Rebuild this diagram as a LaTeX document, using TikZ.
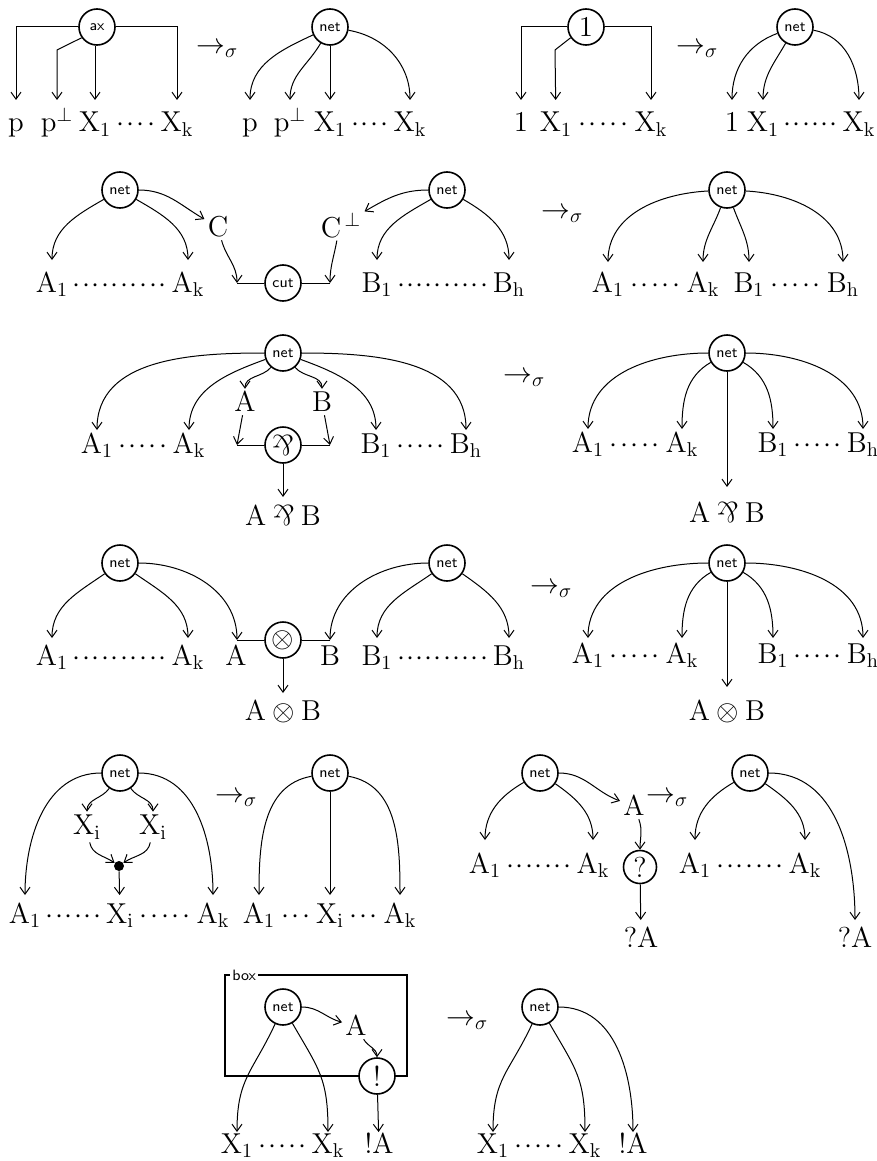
\documentclass[tikz,border=0pt]{standalone}
\usetikzlibrary{arrows.meta,calc}
\mathcode`A="7041 \mathcode`B="7042 \mathcode`C="7043 \mathcode`X="7058
\mathcode`p="7070 \mathcode`k="706B \mathcode`h="7068 \mathcode`i="7069
\newcommand{\parrsym}{\mathbin{\rotatebox[origin=c]{180}{$\&$}}}
\newcommand{\tagf}{\fontsize{7.5}{9}\sffamily}
\newcommand{\dotsbtw}[2]{\path let \p1=(#1.base east), \p2=(#2.base west) in
  node[dotn] at ($(\p1)!0.5!(\p2)$) {\hbox to \dimexpr\x2-\x1-4pt\relax{\xleaders\hbox to 4.6pt{\hss$\cdot$\hss}\hfill}};}
\begin{document}
\begin{tikzpicture}[x=0.5pt,y=0.5pt,
  every node/.style={font=\fontsize{14}{16}\selectfont},
  arr/.style={-{Straight Barb[length=3.5pt,width=5pt]}, line width=0.5pt},
  ln/.style={line width=0.5pt},
  cnode/.style={circle, draw, fill=white, line width=0.8pt, minimum size=18pt, inner sep=0pt},
  lbl/.style={inner sep=0pt, outer xsep=0pt, outer ysep=#1, text height=9pt, text depth=2.5pt, anchor=base},
  lbl/.default=3pt,
  mlbl/.style={inner sep=1.5pt},
  dotn/.style={inner sep=0pt, anchor=base},
  sig/.style={anchor=west, inner sep=0pt},
  bdot/.style={circle, fill, inner sep=0pt, minimum size=5pt}
]
\useasboundingbox (0,0) rectangle (877,-1161);

% ---------------- Row 1, panel 1 (ax)
\node[cnode] (ax) at (97,-27) {\tagf ax};
\node[lbl=7pt] (r1p) at (16,-132) {$p$};
\node[lbl=7pt] (r1q) at (57,-132) {$p^{\perp}$};
\node[lbl=7pt] (r1x) at (95,-132) {$X_1$};
\node[lbl=7pt] (r1k) at (177,-132) {$X_k$};
\dotsbtw{r1x}{r1k}
\coordinate (r1c) at (57,-50);
\draw[arr] (ax.west) -| (r1p);
\draw[arr] (ax.215) -- (r1c) -- (r1q);
\draw[arr] (ax.south -| r1x) -- (r1x);
\draw[arr] (ax.east) -| (r1k);
\node[sig] at (196,-50) {$\to_{\sigma}$};

% ---------------- Row 1, panel 2
\node[cnode] (n1b) at (330,-27) {\tagf net};
\node[lbl=7pt] (r1bp) at (250,-132) {$p$};
\node[lbl=7pt] (r1bq) at (290,-132) {$p^{\perp}$};
\node[lbl=7pt] (r1bx) at (330,-132) {$X_1$};
\node[lbl=7pt] (r1bk) at (410,-132) {$X_k$};
\dotsbtw{r1bx}{r1bk}
\draw[arr] (n1b) to[out=205,in=90] (r1bp);
\draw[arr] (n1b) to[out=240,in=90] (r1bq);
\draw[arr] (n1b) -- (r1bx);
\draw[arr] (n1b) to[out=-10,in=90] (r1bk);

% ---------------- Row 1, panel 3 (one)
\node[cnode] (one) at (586,-27) {$1$};
\node[lbl=7pt] (r1c1) at (521,-132) {$1$};
\node[lbl=7pt] (r1cx) at (556,-132) {$X_1$};
\node[lbl=7pt] (r1ck) at (651,-132) {$X_k$};
\dotsbtw{r1cx}{r1ck}
\coordinate (r1d) at (555,-50);
\draw[arr] (one.west) -| (r1c1);
\draw[arr] (one.215) -- (r1d) -- (r1cx);
\draw[arr] (one.east) -| (r1ck);
\node[sig] at (676,-50) {$\to_{\sigma}$};

% ---------------- Row 1, panel 4
\node[cnode] (n1d) at (795,-27) {\tagf net};
\node[lbl=7pt] (r1d1) at (732,-132) {$1$};
\node[lbl=7pt] (r1dx) at (763,-132) {$X_1$};
\node[lbl=7pt] (r1dk) at (859,-132) {$X_k$};
\dotsbtw{r1dx}{r1dk}
\draw[arr] (n1d) to[out=200,in=90] (r1d1);
\draw[arr] (n1d) to[out=240,in=90] (r1dx);
\draw[arr] (n1d) to[out=-10,in=90] (r1dk);

% ---------------- Row 2 left (cut)
\node[cnode] (n2a) at (120,-190) {\tagf net};
\node[lbl=7pt] (r2a1) at (52,-292) {$A_1$};
\node[lbl=7pt] (r2ak) at (188,-292) {$A_k$};
\dotsbtw{r2a1}{r2ak}
\node[mlbl] (r2C) at (218,-227) {$C$};
\node[cnode] (cut) at (283,-283) {\tagf cut};
\coordinate (r2cl) at (237,-283);
\coordinate (r2cr) at (330,-283);
\node[mlbl] (r2Cp) at (341,-225) {$C^{\,\perp}$};
\node[cnode] (n2b) at (447,-190) {\tagf net};
\node[lbl=7pt] (r2b1) at (377,-292) {$B_1$};
\node[lbl=7pt] (r2bh) at (509,-292) {$B_h$};
\dotsbtw{r2b1}{r2bh}
\draw[arr] (n2a) to[out=210,in=90] (r2a1);
\draw[arr] (n2a) to[out=-30,in=90] (r2ak);
\draw[arr] (n2a.east) to[out=0,in=150] (r2C);
\draw[arr] (r2C) to[out=-75,in=90] (r2cl);
\draw[ln] (cut) -- (r2cl);
\draw[ln] (cut) -- (r2cr);
\draw[arr] (n2b.west) to[out=180,in=30] (r2Cp);
\draw[arr] (r2Cp.-105) to[out=-100,in=90] (r2cr);
\draw[arr] (n2b) to[out=210,in=90] (r2b1);
\draw[arr] (n2b) to[out=-30,in=90] (r2bh);

% ---------------- Row 2 right
\node[sig] at (541,-215) {$\to_{\sigma}$};
\node[cnode] (n2c) at (727,-190) {\tagf net};
\node[lbl=6pt] (r2c1) at (608,-292) {$A_1$};
\node[lbl=6pt] (r2ck) at (703,-292) {$A_k$};
\node[lbl=6pt] (r2cb) at (749,-292) {$B_1$};
\node[lbl=6pt] (r2ch) at (843,-292) {$B_h$};
\dotsbtw{r2c1}{r2ck}
\dotsbtw{r2cb}{r2ch}
\draw[arr] (n2c) to[out=183,in=90] (r2c1);
\draw[arr] (n2c) to[out=250,in=90] (r2ck);
\draw[arr] (n2c) to[out=-70,in=90] (r2cb);
\draw[arr] (n2c) to[out=-3,in=90] (r2ch);

% ---------------- Row 3 left (par)
\node[cnode] (n3a) at (283,-353) {\tagf net};
\node[lbl=2.5pt] (r3a1) at (97,-453) {$A_1$};
\node[lbl=2.5pt] (r3ak) at (189,-453) {$A_k$};
\node[lbl=2.5pt] (r3b1) at (376,-453) {$B_1$};
\node[lbl=2.5pt] (r3bh) at (466,-453) {$B_h$};
\dotsbtw{r3a1}{r3ak}
\dotsbtw{r3b1}{r3bh}
\node[mlbl] (r3A) at (245,-402) {$A$};
\node[mlbl] (r3B) at (322,-402) {$B$};
\node[cnode] (par) at (283,-445) {$\parrsym$};
\coordinate (r3pl) at (237,-445);
\coordinate (r3pr) at (330,-445);
\node[lbl=5pt] (r3ab) at (283,-525) {$A\parrsym B$};
\draw[arr] (n3a.west) to[out=180,in=90] (r3a1);
\draw[arr] (n3a) to[out=200,in=90] (r3ak);
\draw[arr] (n3a) to[out=230,in=90] (r3A);
\draw[arr] (n3a) to[out=-50,in=90] (r3B);
\draw[arr] (n3a) to[out=-20,in=90] (r3b1);
\draw[arr] (n3a.east) to[out=0,in=90] (r3bh);
\draw[arr] (r3A) -- (r3pl);
\draw[arr] (r3B) -- (r3pr);
\draw[ln] (par) -- (r3pl);
\draw[ln] (par) -- (r3pr);
\draw[arr] (par) -- (r3ab);

% ---------------- Row 3 right
\node[sig] at (503,-379) {$\to_{\sigma}$};
\node[cnode] (n3b) at (727,-353) {\tagf net};
\node[lbl=2.5pt] (r3c1) at (588,-452) {$A_1$};
\node[lbl=2.5pt] (r3ck) at (682,-452) {$A_k$};
\node[lbl=2.5pt] (r3cb) at (773,-452) {$B_1$};
\node[lbl=2.5pt] (r3ch) at (863,-452) {$B_h$};
\dotsbtw{r3c1}{r3ck}
\dotsbtw{r3cb}{r3ch}
\node[lbl=8.5pt] (r3cm) at (727,-522) {$A\parrsym B$};
\draw[arr] (n3b.west) to[out=180,in=90] (r3c1);
\draw[arr] (n3b) to[out=210,in=90] (r3ck);
\draw[arr] (n3b) -- (r3cm);
\draw[arr] (n3b) to[out=-30,in=90] (r3cb);
\draw[arr] (n3b.east) to[out=0,in=90] (r3ch);

% ---------------- Row 4 left (tensor)
\node[cnode] (n4a) at (120,-563) {\tagf net};
\node[lbl=4.5pt] (r4a1) at (52,-665) {$A_1$};
\node[lbl=4.5pt] (r4ak) at (188,-665) {$A_k$};
\dotsbtw{r4a1}{r4ak}
\node[lbl=4.5pt] (r4A) at (236,-665) {$A$};
\node[lbl=4.5pt] (r4B) at (330,-665) {$B$};
\node[cnode] (tens) at (283,-640) {$\otimes$};
\coordinate (r4cA) at (237,-640);
\coordinate (r4cB) at (330,-640);
\node[cnode] (n4b) at (447,-563) {\tagf net};
\node[lbl=4.5pt] (r4b1) at (377,-665) {$B_1$};
\node[lbl=4.5pt] (r4bh) at (509,-665) {$B_h$};
\dotsbtw{r4b1}{r4bh}
\node[lbl=4.5pt] (r4ab) at (283,-720) {$A\otimes B$};
\draw[arr] (n4a) to[out=215,in=90] (r4a1);
\draw[arr] (n4a) to[out=-35,in=90] (r4ak);
\draw[arr] (n4a.east) to[out=0,in=90] (r4cA);
\draw[arr] (n4b.west) to[out=180,in=90] (r4cB);
\draw[arr] (n4b) to[out=215,in=90] (r4b1);
\draw[arr] (n4b) to[out=-35,in=90] (r4bh);
\draw[ln] (tens) -- (r4cA);
\draw[ln] (tens) -- (r4cB);
\draw[arr] (tens) -- (r4ab);

% ---------------- Row 4 right
\node[sig] at (530,-590) {$\to_{\sigma}$};
\node[cnode] (n4c) at (727,-563) {\tagf net};
\node[lbl=3.5pt] (r4c1) at (588,-663) {$A_1$};
\node[lbl=3.5pt] (r4ck) at (682,-663) {$A_k$};
\node[lbl=3.5pt] (r4cb) at (773,-663) {$B_1$};
\node[lbl=3.5pt] (r4ch) at (863,-663) {$B_h$};
\dotsbtw{r4c1}{r4ck}
\dotsbtw{r4cb}{r4ch}
\node[lbl=7.5pt] (r4cm) at (727,-720) {$A\otimes B$};
\draw[arr] (n4c.west) to[out=180,in=90] (r4c1);
\draw[arr] (n4c) to[out=210,in=90] (r4ck);
\draw[arr] (n4c) -- (r4cm);
\draw[arr] (n4c) to[out=-30,in=90] (r4cb);
\draw[arr] (n4c.east) to[out=0,in=90] (r4ch);

% ---------------- Row 5, panel 1 (contraction)
\node[cnode] (n5a) at (120,-773) {\tagf net};
\node[lbl=5pt] (r5a1) at (25,-923) {$A_1$};
\node[lbl=5pt] (r5ax) at (120,-923) {$X_i$};
\node[lbl=5pt] (r5ak) at (213,-923) {$A_k$};
\dotsbtw{r5a1}{r5ax}
\dotsbtw{r5ax}{r5ak}
\node[mlbl] (r5xl) at (87,-827) {$X_i$};
\node[mlbl] (r5xr) at (153,-827) {$X_i$};
\node[bdot] (cdot) at (119,-866) {};
\draw[arr] (n5a.west) to[out=180,in=90] (r5a1);
\draw[arr] (n5a.east) to[out=0,in=90] (r5ak);
\draw[arr] (n5a) to[out=235,in=90] (r5xl);
\draw[arr] (n5a) to[out=-55,in=90] (r5xr);
\draw[arr] (r5xl) to[out=-80,in=145] (cdot);
\draw[arr] (r5xr) to[out=-100,in=35] (cdot);
\draw[arr] (cdot) -- (r5ax);
\node[sig] at (215,-799) {$\to_{\sigma}$};

% ---------------- Row 5, panel 2
\node[cnode] (n5b) at (330,-773) {\tagf net};
\node[lbl=5pt] (r5b1) at (259,-923) {$A_1$};
\node[lbl=5pt] (r5bx) at (330,-923) {$X_i$};
\node[lbl=5pt] (r5bk) at (400,-923) {$A_k$};
\dotsbtw{r5b1}{r5bx}
\dotsbtw{r5bx}{r5bk}
\draw[arr] (n5b) to[out=190,in=90] (r5b1);
\draw[arr] (n5b) -- (r5bx);
\draw[arr] (n5b) to[out=-10,in=90] (r5bk);

% ---------------- Row 5, panel 3 (why not)
\node[cnode] (n5c) at (540,-773) {\tagf net};
\node[lbl=7.5pt] (r5c1) at (485,-873) {$A_1$};
\node[lbl=7.5pt] (r5ck) at (593,-873) {$A_k$};
\dotsbtw{r5c1}{r5ck}
\node[mlbl] (r5A) at (634,-806) {$A$};
\node[cnode, minimum size=16.5pt] (qn) at (640,-867) {$?$};
\node[lbl=4.5pt] (r5qA) at (641,-947) {$?A$};
\draw[arr] (n5c) to[out=210,in=90] (r5c1);
\draw[arr] (n5c) to[out=-35,in=90] (r5ck);
\draw[arr] (n5c.east) to[out=0,in=160] (r5A);
\draw[arr] (r5A) to[out=-70,in=90] (qn);
\draw[arr] (qn) -- (r5qA);
\node[sig] at (646,-799) {$\to_{\sigma}$};

% ---------------- Row 5, panel 4
\node[cnode] (n5d) at (750,-773) {\tagf net};
\node[lbl=7.5pt] (r5d1) at (695,-873) {$A_1$};
\node[lbl=7.5pt] (r5dk) at (805,-873) {$A_k$};
\dotsbtw{r5d1}{r5dk}
\node[lbl=4.5pt] (r5dq) at (855,-947) {$?A$};
\draw[arr] (n5d) to[out=210,in=90] (r5d1);
\draw[arr] (n5d) to[out=-35,in=90] (r5dk);
\draw[arr] (n5d.east) to[out=0,in=90] (r5dq);

% ---------------- Row 6 left (box)
\draw[line width=0.8pt] (225,-975) rectangle (407,-1076);
\node[fill=white, inner sep=1pt, anchor=west, font=\tagf] (boxt) at (230,-975) {box};
\node[cnode] (n6a) at (283,-1007) {\tagf net};
\node[mlbl] (r6A) at (356,-1026) {$A$};
\node[cnode] (exn) at (377,-1076) {$!$};
\node[lbl=1.5pt] (r6x1) at (237,-1153) {$X_1$};
\node[lbl=1.5pt] (r6xk) at (328,-1153) {$X_k$};
\node[lbl=1.5pt] (r6eA) at (379,-1153) {$!A$};
\dotsbtw{r6x1}{r6xk}
\draw[arr] (n6a) to[out=245,in=90,looseness=1.2] (r6x1);
\draw[arr] (n6a) to[out=-60,in=90,looseness=1.2] (r6xk);
\draw[arr] (n6a.east) to[out=0,in=165] (r6A);
\draw[arr] (r6A) to[out=-60,in=90] (exn);
\draw[arr] (exn) -- (r6eA);
\node[sig] at (446,-1022) {$\to_{\sigma}$};

% ---------------- Row 6 right
\node[cnode] (n6b) at (540,-1007) {\tagf net};
\node[lbl=1.5pt] (r6b1) at (493,-1153) {$X_1$};
\node[lbl=1.5pt] (r6bk) at (585,-1153) {$X_k$};
\node[lbl=1.5pt] (r6bA) at (633,-1153) {$!A$};
\dotsbtw{r6b1}{r6bk}
\draw[arr] (n6b) to[out=245,in=90,looseness=1.2] (r6b1);
\draw[arr] (n6b) to[out=-60,in=90,looseness=1.2] (r6bk);
\draw[arr] (n6b.east) to[out=0,in=90] (r6bA);
\end{tikzpicture}
\end{document}
